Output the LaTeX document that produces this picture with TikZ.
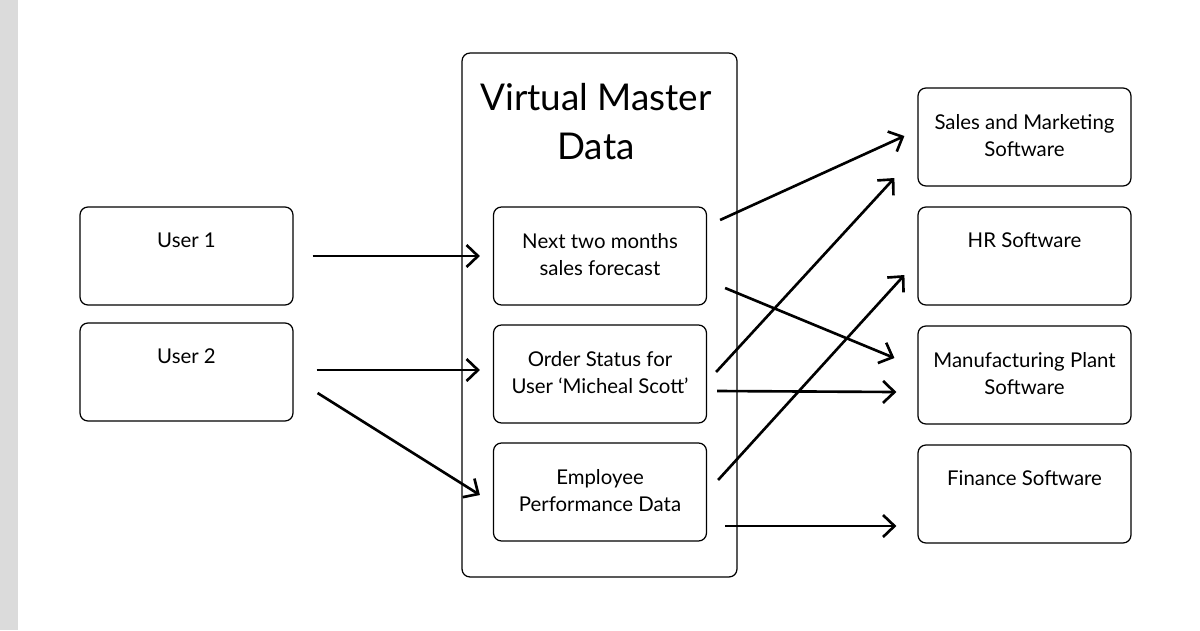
\documentclass[tikz,border=0pt]{standalone}
\usepackage{fontspec}
\setmainfont{Lato}
\usetikzlibrary{calc}
\usetikzlibrary{arrows.meta}

\begin{document}
\begin{tikzpicture}[x=0.02cm,y=-0.02cm]
	\tikzstyle{box}=[draw,rounded corners=4.5pt,line width=0.7pt,minimum width=4.26cm,minimum height=1.96cm,inner sep=0pt]
	\tikzstyle{txt}=[anchor=north,yshift=-15pt,align=center,inner sep=0pt,font=\fontsize{11.6}{15.3}\selectfont]
	\tikzstyle{flow}=[line width=1.5pt,-{Straight Barb[length=2.3mm,width=4.4mm,line width=1.5pt]}]
	% page and grey strip
	\fill[white] (0,0) rectangle (1200,630);
	\fill[black!14] (0,0) rectangle (18,630);
	% users
	\node[box,label={[txt]north:User 1}] (u1) at (186.5,256) {};
	\node[box,label={[txt]north:User 2}] (u2) at (186.5,372) {};
	% virtual master data
	\node[draw,rounded corners=4.5pt,line width=0.7pt,minimum width=5.5cm,minimum height=10.48cm] (vmd) at (599.5,315) {};
	\node[align=center,font=\fontsize{21}{27.9}\selectfont] (title) at (596,122) {Virtual Master\\Data};
	\node[box,label={[txt]north:Next two months\\sales forecast}] (f1) at (600,256) {};
	\node[box,label={[txt]north:Order Status for\\User `Micheal Scott'}] (f2) at (600,374) {};
	\node[box,label={[txt]north:Employee\\Performance Data}] (f3) at (600,492) {};
	% software
	\node[box,label={[txt]north:Sales and Marketing\\Software}] (s1) at (1024.5,137) {};
	\node[box,label={[txt]north:HR Software}] (s2) at (1024.5,256) {};
	\node[box,label={[txt]north:Manufacturing Plant\\Software}] (s3) at (1024.5,375) {};
	\node[box,label={[txt]north:Finance Software}] (s4) at (1024.5,494) {};
	% arrows
	\draw[flow] ($(u1.east)+(19,0)$) -- ($(f1.west)+(-13,0)$);
	\draw[flow] ($(u2.east)+(23,-2)$) -- ($(f2.west)+(-13,-4)$);
	\draw[flow] ($(u2.east)+(24,21)$) -- ($(f3.west)+(-13,3)$);
	\draw[flow] ($(f1.east)+(13,-36)$) -- ($(s1.west)+(-13,-1)$);
	\draw[flow] ($(f1.east)+(18,32)$) -- ($(s3.west)+(-23,-17)$);
	\draw[flow] ($(f2.east)+(9,-2)$) -- ($(s1.west)+(-23,41)$);
	\draw[flow] ($(f2.east)+(10,17)$) -- ($(s3.west)+(-21,17)$);
	\draw[flow] ($(f3.east)+(11,-12)$) -- ($(s2.west)+(-13,19)$);
	\draw[flow] ($(f3.east)+(18,34)$) -- ($(s4.west)+(-21,32)$);
\end{tikzpicture}
\end{document}
